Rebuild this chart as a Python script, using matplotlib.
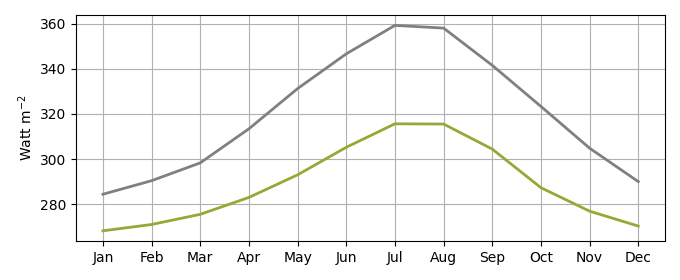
import matplotlib
matplotlib.use('Agg')
import matplotlib.pyplot as plt
import numpy as np

months = ['Jan', 'Feb', 'Mar', 'Apr', 'May', 'Jun',
          'Jul', 'Aug', 'Sep', 'Oct', 'Nov', 'Dec']
gray_vals = [284.4, 290.4, 298.3, 313.4, 331.2, 346.6,
             359.2, 358.0, 341.5, 323.3, 304.8, 290.0]
green_vals = [268.2, 271.0, 275.5, 283.0, 293.0, 305.2,
              315.6, 315.5, 304.4, 287.3, 276.9, 270.3]

fig = plt.figure(figsize=(6.8, 2.8), dpi=100)
ax = fig.add_axes([0.112, 0.139, 0.866, 0.807])
x = np.arange(len(months))
ax.plot(x, gray_vals, color='grey', lw=2)
ax.plot(x, green_vals, color='#94aa36', lw=2)
ax.set_xticks(x)
ax.set_xticklabels(months)
ax.set_ylabel('Watt m$^{-2}$')
ax.grid(True)
fig.savefig('out.png', dpi=100)
